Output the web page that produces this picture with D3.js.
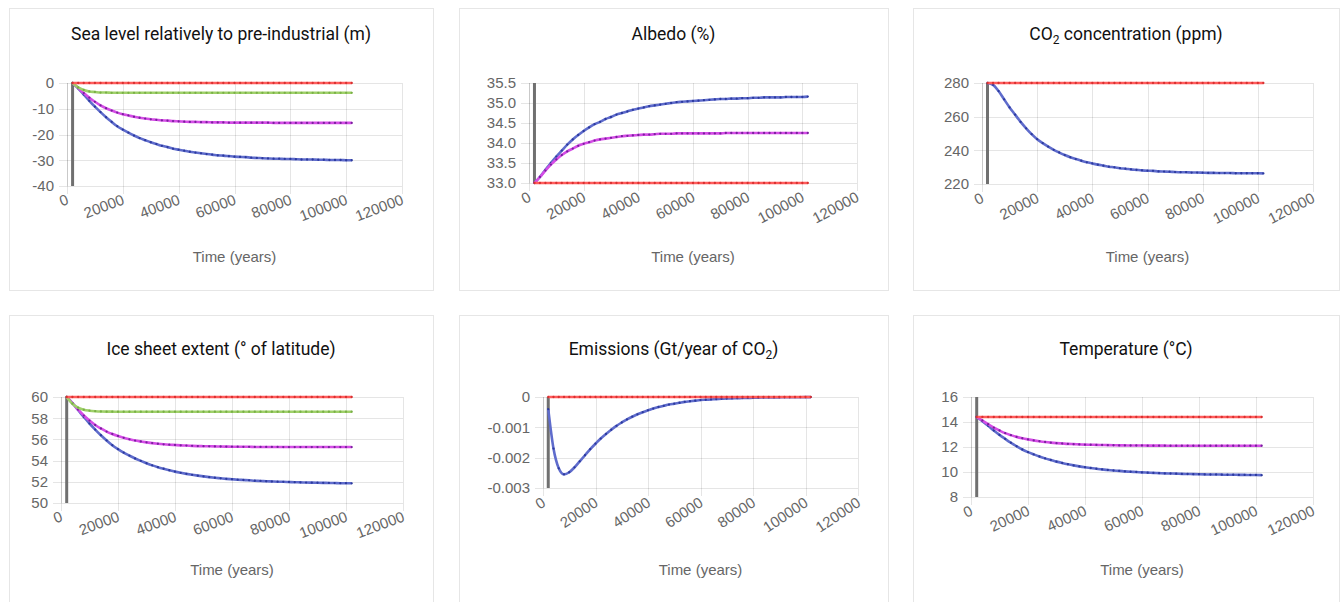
<!DOCTYPE html>
<html><head><meta charset="utf-8">
<script src="https://cdn.jsdelivr.net/npm/d3@7"></script>
<style>body{margin:0;background:#fff;} svg{display:block}</style>
</head><body><svg id="c" width="1340" height="602"></svg>
<script>
// ---------- DATA ----------
const times = [2000,4000,6000,8000,10000,12000,14000,16000,18000,20000,22000,24000,26000,28000,30000,32000,34000,36000,38000,40000,42000,44000,46000,48000,50000,52000,54000,56000,58000,60000,62000,64000,66000,68000,70000,72000,74000,76000,78000,80000,82000,84000,86000,88000,90000,92000,94000,96000,98000,100000,102000];
const xTicks = [0,20000,40000,60000,80000,100000,120000];
const xTickLabels = ["0","20000","40000","60000","80000","100000","120000"];

const seaRed = [0,0,0,0,0,0,0,0,0,0,0,0,0,0,0,0,0,0,0,0,0,0,0,0,0,0,0,0,0,0,0,0,0,0,0,0,0,0,0,0,0,0,0,0,0,0,0,0,0,0,0];
const seaGreen = [0,-1.7,-2.7,-3.3,-3.5,-3.7,-3.7,-3.8,-3.8,-3.8,-3.8,-3.8,-3.8,-3.8,-3.8,-3.8,-3.8,-3.8,-3.8,-3.8,-3.8,-3.8,-3.8,-3.8,-3.8,-3.8,-3.8,-3.8,-3.8,-3.8,-3.8,-3.8,-3.8,-3.8,-3.8,-3.8,-3.8,-3.8,-3.8,-3.8,-3.8,-3.8,-3.8,-3.8,-3.8,-3.8,-3.8,-3.8,-3.8,-3.8,-3.8];
const seaPurple = [0,-1.9,-3.9,-5.7,-7.3,-8.7,-9.8,-10.7,-11.5,-12.1,-12.6,-13.1,-13.5,-13.8,-14.1,-14.3,-14.5,-14.6,-14.8,-14.9,-15.0,-15.1,-15.1,-15.2,-15.2,-15.3,-15.3,-15.3,-15.4,-15.4,-15.4,-15.4,-15.4,-15.4,-15.4,-15.4,-15.5,-15.5,-15.5,-15.5,-15.5,-15.5,-15.5,-15.5,-15.5,-15.5,-15.5,-15.5,-15.5,-15.5,-15.5];
const seaBlue = [0,-2.1,-4.5,-6.9,-9.2,-11.3,-13.3,-15.1,-16.8,-18.1,-19.3,-20.4,-21.4,-22.2,-23.0,-23.7,-24.4,-24.9,-25.5,-25.9,-26.3,-26.7,-27.0,-27.3,-27.6,-27.8,-28.1,-28.2,-28.4,-28.6,-28.7,-28.8,-29.0,-29.1,-29.2,-29.3,-29.4,-29.4,-29.5,-29.5,-29.6,-29.7,-29.7,-29.7,-29.8,-29.8,-29.9,-29.9,-29.9,-30.0,-30.0];

const albedoRed = [33,33,33,33,33,33,33,33,33,33,33,33,33,33,33,33,33,33,33,33,33,33,33,33,33,33,33,33,33,33,33,33,33,33,33,33,33,33,33,33,33,33,33,33,33,33,33,33,33,33,33];
const albedoPurple = [33.00,33.15,33.31,33.46,33.59,33.70,33.79,33.86,33.93,33.98,34.02,34.06,34.09,34.11,34.13,34.15,34.17,34.18,34.19,34.20,34.21,34.21,34.22,34.23,34.23,34.23,34.24,34.24,34.24,34.24,34.24,34.24,34.24,34.24,34.24,34.25,34.25,34.25,34.25,34.25,34.25,34.25,34.25,34.25,34.25,34.25,34.25,34.25,34.25,34.25,34.25];
const albedoBlue = [33.00,33.15,33.33,33.50,33.66,33.81,33.96,34.09,34.20,34.30,34.39,34.47,34.53,34.60,34.65,34.71,34.75,34.79,34.83,34.86,34.89,34.92,34.94,34.96,34.98,35.00,35.02,35.03,35.04,35.05,35.06,35.07,35.08,35.09,35.10,35.10,35.11,35.11,35.12,35.12,35.13,35.13,35.14,35.14,35.14,35.14,35.15,35.15,35.15,35.15,35.16];

const co2Red = [280,280,280,280,280,280,280,280,280,280,280,280,280,280,280,280,280,280,280,280,280,280,280,280,280,280,280,280,280,280,280,280,280,280,280,280,280,280,280,280,280,280,280,280,280,280,280,280,280,280,280];
const co2Blue = [280.0,278.9,275.2,270.3,265.5,261.2,256.9,253.1,249.6,246.6,244.3,242.2,240.3,238.7,237.2,235.9,234.8,233.8,232.9,232.2,231.5,230.9,230.3,229.9,229.4,229.1,228.7,228.4,228.1,227.9,227.8,227.5,227.4,227.3,227.1,227.0,227.0,226.8,226.8,226.7,226.6,226.6,226.5,226.5,226.5,226.4,226.4,226.4,226.4,226.4,226.3];

const iceRed = [60,60,60,60,60,60,60,60,60,60,60,60,60,60,60,60,60,60,60,60,60,60,60,60,60,60,60,60,60,60,60,60,60,60,60,60,60,60,60,60,60,60,60,60,60,60,60,60,60,60,60];
const iceGreen = [60.00,59.37,59.00,58.80,58.71,58.66,58.63,58.62,58.62,58.61,58.61,58.61,58.61,58.61,58.61,58.61,58.61,58.61,58.61,58.61,58.61,58.61,58.61,58.61,58.61,58.61,58.61,58.61,58.61,58.61,58.61,58.61,58.61,58.61,58.61,58.61,58.61,58.61,58.61,58.61,58.61,58.61,58.61,58.61,58.61,58.61,58.61,58.61,58.61,58.61,58.61];
const icePurple = [60.00,59.43,58.82,58.25,57.78,57.36,57.03,56.74,56.51,56.32,56.15,56.01,55.89,55.80,55.72,55.65,55.59,55.54,55.50,55.47,55.44,55.42,55.39,55.37,55.36,55.35,55.34,55.33,55.32,55.31,55.31,55.30,55.30,55.29,55.29,55.29,55.29,55.29,55.28,55.28,55.28,55.28,55.28,55.28,55.28,55.28,55.28,55.28,55.28,55.28,55.28];
const iceBlue = [60.00,59.43,58.77,58.11,57.50,56.93,56.39,55.90,55.45,55.08,54.75,54.47,54.20,53.97,53.75,53.55,53.38,53.23,53.09,52.96,52.85,52.75,52.66,52.58,52.51,52.44,52.38,52.33,52.28,52.24,52.20,52.17,52.14,52.10,52.08,52.05,52.03,52.01,52.00,51.98,51.96,51.95,51.93,51.92,51.91,51.90,51.89,51.88,51.87,51.87,51.86];

const emRed = [0,0,0,0,0,0,0,0,0,0,0,0,0,0,0,0,0,0,0,0,0,0,0,0,0,0,0,0,0,0,0,0,0,0,0,0,0,0,0,0,0,0,0,0,0,0,0,0,0,0,0];
const emBlue = [-0.0004,-0.0017,-0.00235,-0.00255,-0.00248,-0.00232,-0.00212,-0.00192,-0.00172,-0.00154,-0.00137,-0.00122,-0.00108,-0.00095,-0.00084,-0.00074,-0.00065,-0.00057,-0.0005,-0.00044,-0.00038,-0.00033,-0.00029,-0.00025,-0.00022,-0.00019,-0.00016,-0.00014,-0.00012,-0.0001,-0.00009,-0.00008,-0.00007,-0.00006,-0.00005,-0.000045,-0.00004,-0.000035,-0.00003,-0.000025,-0.00002,-0.000018,-0.000015,-0.000013,-0.000011,-0.00001,-0.000008,-0.000007,-0.000006,-0.000005,-0.000004];

const tempRed = [14.4,14.4,14.4,14.4,14.4,14.4,14.4,14.4,14.4,14.4,14.4,14.4,14.4,14.4,14.4,14.4,14.4,14.4,14.4,14.4,14.4,14.4,14.4,14.4,14.4,14.4,14.4,14.4,14.4,14.4,14.4,14.4,14.4,14.4,14.4,14.4,14.4,14.4,14.4,14.4,14.4,14.4,14.4,14.4,14.4,14.4,14.4,14.4,14.4,14.4,14.4];
const tempPurple = [14.40,14.12,13.83,13.55,13.32,13.11,12.95,12.81,12.70,12.61,12.53,12.46,12.40,12.35,12.31,12.28,12.25,12.23,12.21,12.19,12.18,12.17,12.16,12.15,12.14,12.13,12.13,12.12,12.12,12.12,12.11,12.11,12.11,12.11,12.10,12.10,12.10,12.10,12.10,12.10,12.10,12.10,12.10,12.10,12.10,12.10,12.10,12.10,12.10,12.10,12.10];
const tempBlue = [14.40,14.07,13.70,13.32,12.97,12.65,12.34,12.06,11.80,11.59,11.41,11.24,11.09,10.96,10.83,10.72,10.62,10.53,10.45,10.38,10.32,10.26,10.21,10.16,10.12,10.09,10.05,10.02,10.00,9.97,9.95,9.93,9.91,9.89,9.88,9.87,9.85,9.84,9.83,9.82,9.81,9.80,9.80,9.79,9.78,9.78,9.77,9.77,9.76,9.76,9.75];

const seaYTicks = [-40,-30,-20,-10,0];
const seaYLabels = ["-40","-30","-20","-10","0"];
const albedoYTicks = [33,33.5,34,34.5,35,35.5];
const albedoYLabels = ["33.0","33.5","34.0","34.5","35.0","35.5"];
const co2YTicks = [220,240,260,280];
const co2YLabels = ["220","240","260","280"];
const iceYTicks = [50,52,54,56,58,60];
const iceYLabels = ["50","52","54","56","58","60"];
const emYTicks = [-0.003,-0.002,-0.001,0];
const emYLabels = ["-0.003","-0.002","-0.001","0"];
const tempYTicks = [8,10,12,14,16];
const tempYLabels = ["8","10","12","14","16"];

// ---------- STYLE / LAYOUT ----------
const palette = {
  blue:   {line:"#5f6ccc", dot:"#2c3a9e"},
  purple: {line:"#d54de6", dot:"#7a1f9e"},
  green:  {line:"#9fd06a", dot:"#79b046"},
  red:    {line:"#ff5c5c", dot:"#d83030"}
};

const panels = [
  {title:[{t:"Sea level relatively to pre-industrial (m)"}], y:[-40,0], ticks:seaYTicks, labels:seaYLabels,
   series:[["blue",seaBlue],["purple",seaPurple],["green",seaGreen],["red",seaRed]],
   card:[9,8,424,282], plot:[67,83,402,186], angle:21, axisTitleY:257, titleY:34},
  {title:[{t:"Albedo (%)"}], y:[33,35.5], ticks:albedoYTicks, labels:albedoYLabels,
   series:[["blue",albedoBlue],["purple",albedoPurple],["red",albedoRed]],
   card:[459,8,429,282], plot:[529,83,857,183], angle:28, axisTitleY:257, titleY:34},
  {title:[{t:"CO"},{t:"2",sub:true},{t:" concentration (ppm)"}], y:[220,280], ticks:co2YTicks, labels:co2YLabels,
   series:[["blue",co2Blue],["red",co2Red]],
   card:[913,8,426,282], plot:[982,83,1313,184], angle:27, axisTitleY:257, titleY:34},
  {title:[{t:"Ice sheet extent (° of latitude)"}], y:[50,60], ticks:iceYTicks, labels:iceYLabels,
   series:[["blue",iceBlue],["purple",icePurple],["green",iceGreen],["red",iceRed]],
   card:[9,315,424,300], plot:[61,397,403,503], angle:21, axisTitleY:570, titleY:349},
  {title:[{t:"Emissions (Gt/year of CO"},{t:"2",sub:true},{t:")"}], y:[-0.003,0], ticks:emYTicks, labels:emYLabels,
   series:[["blue",emBlue],["red",emRed]],
   card:[459,315,429,300], plot:[543,397,858,488], angle:34, axisTitleY:570, titleY:349},
  {title:[{t:"Temperature (°C)"}], y:[8,16], ticks:tempYTicks, labels:tempYLabels,
   series:[["blue",tempBlue],["purple",tempPurple],["red",tempRed]],
   card:[913,315,426,300], plot:[971,397,1313,497], angle:25, axisTitleY:570, titleY:349}
];

const svg = d3.select("#c");
const TICK = 8;
const tickFont = "'Liberation Sans', Arial, Helvetica, sans-serif";

panels.forEach(p => {
  const [cx, cy, cw, ch] = p.card;
  const [l, t, r, b] = p.plot;
  const g = svg.append("g");

  g.append("rect").attr("x", cx + 0.5).attr("y", cy + 0.5).attr("width", cw).attr("height", ch)
    .attr("fill", "#fff").attr("stroke", "#e6e6e6");

  // title
  const title = g.append("text").attr("x", cx + cw / 2).attr("y", p.titleY + 10)
    .attr("text-anchor", "middle").attr("font-family", "Roboto, sans-serif")
    .attr("font-size", 17.5).attr("font-weight", 400).attr("fill", "#111");
  p.title.forEach(part => {
    if (part.sub) {
      title.append("tspan").attr("font-size", 12).attr("dy", 4).text(part.t);
    } else {
      title.append("tspan").attr("dy", title.selectAll("tspan").size() > 0 ? -4 : 0).text(part.t);
    }
  });

  const x = d3.scaleLinear().domain([0, 120000]).range([l, r]);
  const y = d3.scaleLinear().domain(p.y).range([b, t]);

  // y axis + horizontal grid
  const yAxis = d3.axisLeft(y).tickValues(p.ticks)
    .tickFormat((d, i) => p.labels[i]).tickSizeInner(-(r - l + TICK)).tickSizeOuter(0).tickPadding(5);
  const ya = g.append("g").attr("transform", `translate(${l - TICK},0)`).call(yAxis);
  ya.select(".domain").remove();
  ya.selectAll(".tick line").attr("stroke", "rgba(0,0,0,0.1)").attr("shape-rendering", "crispEdges");
  ya.selectAll(".tick text").attr("fill", "#666").attr("font-size", 15).attr("font-family", tickFont);

  // x axis + vertical grid
  const xAxis = d3.axisBottom(x).tickValues(xTicks)
    .tickFormat((d, i) => xTickLabels[i]).tickSizeInner(-(b - t + TICK)).tickSizeOuter(0);
  const xa = g.append("g").attr("transform", `translate(0,${b + TICK})`).call(xAxis);
  xa.select(".domain").remove();
  xa.selectAll(".tick line").attr("stroke", "rgba(0,0,0,0.1)").attr("shape-rendering", "crispEdges");
  xa.selectAll(".tick text")
    .attr("y", 0).attr("dy", null)
    .attr("transform", `translate(0,4.5) rotate(${-p.angle})`)
    .attr("text-anchor", "end").attr("dominant-baseline", "central")
    .attr("fill", "#666").attr("font-size", 15).attr("font-family", tickFont);

  // left axis border
  g.append("line").attr("x1", l).attr("x2", l).attr("y1", t).attr("y2", b)
    .attr("stroke", "rgba(0,0,0,0.12)").attr("shape-rendering", "crispEdges");

  // axis title
  g.append("text").attr("x", (l + r) / 2).attr("y", p.axisTitleY + 5)
    .attr("text-anchor", "middle").attr("font-family", tickFont).attr("font-size", 15)
    .attr("fill", "#666").text("Time (years)");

  // current-time marker
  g.append("line").attr("x1", x(times[0])).attr("x2", x(times[0]))
    .attr("y1", t).attr("y2", b).attr("stroke", "#707070").attr("stroke-width", 3);

  // series
  const line = d3.line().x((d, i) => x(times[i])).y(d => y(d)).curve(d3.curveMonotoneX);
  p.series.forEach(([name, vals]) => {
    const c = palette[name];
    g.append("path").datum(vals).attr("d", line).attr("fill", "none")
      .attr("stroke", c.line).attr("stroke-width", 2.6).attr("stroke-linejoin", "round");
    g.append("g").selectAll("circle").data(vals).join("circle")
      .attr("cx", (d, i) => x(times[i])).attr("cy", d => y(d)).attr("r", 1.15)
      .attr("fill", c.dot);
  });
});
</script>
</body></html>
